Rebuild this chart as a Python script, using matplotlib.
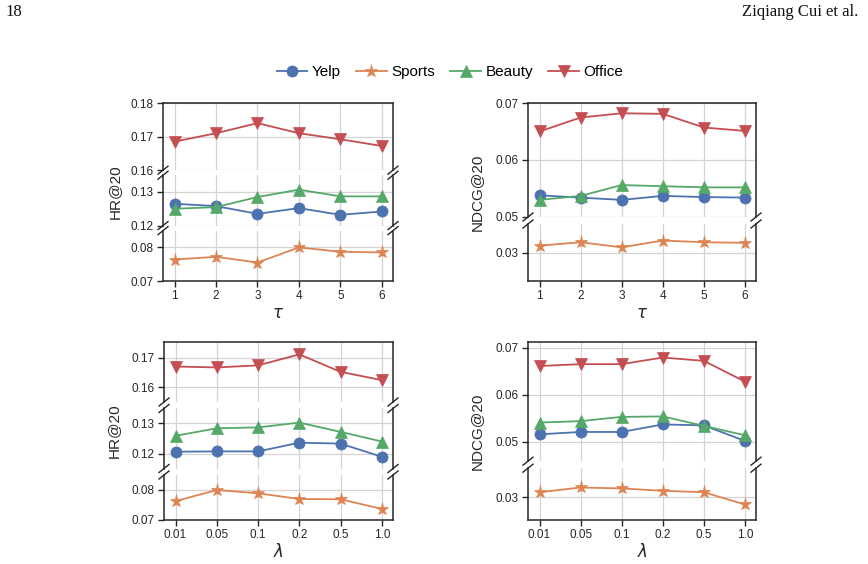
import matplotlib
matplotlib.use('Agg')
import matplotlib.pyplot as plt
from matplotlib.lines import Line2D
from matplotlib.ticker import FormatStrFormatter

plt.rcParams['font.family'] = ['Liberation Sans', 'DejaVu Sans']
plt.rcParams['mathtext.fontset'] = 'dejavusans'

# ---------------- data ----------------
series_names = ['Yelp', 'Sports', 'Beauty', 'Office']
tau_labels = ['1', '2', '3', '4', '5', '6']
lam_labels = ['0.01', '0.05', '0.1', '0.2', '0.5', '1.0']

hr_tau_yelp = [0.1265, 0.1258, 0.1235, 0.1252, 0.1232, 0.1242]
hr_tau_sports = [0.0764, 0.0772, 0.0755, 0.0800, 0.0787, 0.0785]
hr_tau_beauty = [0.1250, 0.1255, 0.1285, 0.1307, 0.1287, 0.1287]
hr_tau_office = [0.1685, 0.1710, 0.1740, 0.1710, 0.1692, 0.1672]

ndcg_tau_yelp = [0.0538, 0.0534, 0.0530, 0.0537, 0.0535, 0.0534]
ndcg_tau_sports = [0.0312, 0.0318, 0.0309, 0.0321, 0.0318, 0.0317]
ndcg_tau_beauty = [0.0530, 0.0537, 0.0556, 0.0554, 0.0552, 0.0552]
ndcg_tau_office = [0.0650, 0.06745, 0.0682, 0.0681, 0.0657, 0.0651]

hr_lam_yelp = [0.1206, 0.1207, 0.1207, 0.1236, 0.1233, 0.1189]
hr_lam_sports = [0.0763, 0.0800, 0.0789, 0.0770, 0.0769, 0.0737]
hr_lam_beauty = [0.1259, 0.1284, 0.1287, 0.1303, 0.1272, 0.1240]
hr_lam_office = [0.1670, 0.1667, 0.1674, 0.1711, 0.1652, 0.1624]

ndcg_lam_yelp = [0.0516, 0.0521, 0.0521, 0.0537, 0.0535, 0.0502]
ndcg_lam_sports = [0.0311, 0.0321, 0.0319, 0.0314, 0.0311, 0.0285]
ndcg_lam_beauty = [0.0541, 0.0544, 0.0553, 0.0554, 0.0534, 0.0514]
ndcg_lam_office = [0.0661, 0.0665, 0.0665, 0.0679, 0.0672, 0.0628]

# ---------------- style ----------------
W, H = 868, 564
fig = plt.figure(figsize=(W / 100, H / 100), dpi=100)

colors = {'Yelp': '#4C72B0', 'Sports': '#DD8452', 'Beauty': '#55A868', 'Office': '#C44E52'}
markers = {'Yelp': 'o', 'Sports': '*', 'Beauty': '^', 'Office': 'v'}
msizes = {'Yelp': 8, 'Sports': 9.5, 'Beauty': 8, 'Office': 8}
DARK = '#262626'


def fx(px):
    return px / W


def fy(py):
    return 1 - py / H


def panel(box, ranges, ticks, ratios, hspace, data, xlabels, ylabel, xlabel, ylab_x, xlab_y):
    left, right, top, bottom = box
    n = len(ranges)
    gs = fig.add_gridspec(n, 1, left=fx(left), right=fx(right), top=fy(top), bottom=fy(bottom),
                          height_ratios=ratios, hspace=hspace)
    axes = []
    xs = list(range(len(xlabels)))
    for i, (lo, hi) in enumerate(ranges):
        ax = fig.add_subplot(gs[i])
        for name in series_names:
            ax.plot(xs, data[name], color=colors[name], marker=markers[name], ms=msizes[name],
                    lw=1.3, mec=colors[name], mew=0.5, zorder=3)
        ax.set_ylim(lo, hi)
        ax.set_yticks(ticks[i])
        ax.yaxis.set_major_formatter(FormatStrFormatter('%.2f'))
        ax.set_xlim(-0.28, len(xs) - 1 + 0.27)
        ax.set_xticks(xs)
        ax.grid(True, color='#d4d4d4', lw=0.9)
        ax.set_axisbelow(True)
        for s in ax.spines.values():
            s.set_color(DARK)
            s.set_linewidth(1.1)
        ax.tick_params(labelsize=8.5, length=4, width=1, colors=DARK, pad=2.5)
        if i > 0:
            ax.spines['top'].set_visible(False)
        if i < n - 1:
            ax.spines['bottom'].set_visible(False)
            ax.tick_params(axis='x', length=0, labelbottom=False)
        else:
            ax.set_xticklabels(xlabels)
        axes.append(ax)
    # break marks
    dx, dy = 5 / W, 4 / H
    for i in range(n - 1):
        yb = axes[i].get_position().y0
        yt = axes[i + 1].get_position().y1
        for yy in (yb, yt):
            for xx in (fx(left), fx(right)):
                fig.add_artist(Line2D([xx - dx, xx + dx], [yy - dy, yy + dy], color=DARK,
                                      lw=1.0, transform=fig.transFigure))
    fig.text(fx(ylab_x), fy((top + bottom) / 2), ylabel, rotation=90, ha='center', va='center',
             fontsize=11, color=DARK)
    fig.text(fx((left + right) / 2), fy(xlab_y), xlabel, ha='center', va='center',
             fontsize=12, color=DARK)
    return axes


panel((163, 393, 103, 281),
      [(0.16, 0.18), (0.12, 0.135), (0.07, 0.085)],
      [[0.16, 0.17, 0.18], [0.12, 0.13], [0.07, 0.08]],
      [4, 3, 3], 0.09,
      {'Yelp': hr_tau_yelp, 'Sports': hr_tau_sports, 'Beauty': hr_tau_beauty, 'Office': hr_tau_office},
      tau_labels, 'HR@20', r'$\tau$', 115, 313)

panel((528, 756, 103, 281),
      [(0.05, 0.07), (0.025, 0.035)],
      [[0.05, 0.06, 0.07], [0.03]],
      [2, 1], 0.082,
      {'Yelp': ndcg_tau_yelp, 'Sports': ndcg_tau_sports, 'Beauty': ndcg_tau_beauty, 'Office': ndcg_tau_office},
      tau_labels, 'NDCG@20', r'$\tau$', 477, 313)

panel((164, 393, 342, 520),
      [(0.155, 0.1753), (0.115, 0.135), (0.07, 0.085)],
      [[0.16, 0.17], [0.12, 0.13], [0.07, 0.08]],
      [4, 4, 3], 0.118,
      {'Yelp': hr_lam_yelp, 'Sports': hr_lam_sports, 'Beauty': hr_lam_beauty, 'Office': hr_lam_office},
      lam_labels, 'HR@20', r'$\lambda$', 114, 551)

panel((528, 756, 342, 520),
      [(0.0459, 0.0712), (0.0252, 0.0362)],
      [[0.05, 0.06, 0.07], [0.03]],
      [0.0253, 0.011], 0.082,
      {'Yelp': ndcg_lam_yelp, 'Sports': ndcg_lam_sports, 'Beauty': ndcg_lam_beauty, 'Office': ndcg_lam_office},
      lam_labels, 'NDCG@20', r'$\lambda$', 477, 551)

# legend
handles = [Line2D([], [], color=colors[n], marker=markers[n], ms=msizes[n], lw=1.3, mec=colors[n], mew=0.5)
           for n in series_names]
fig.legend(handles, series_names, loc='center', bbox_to_anchor=(fx(450), fy(72)), ncol=4,
           frameon=False, fontsize=11, handlelength=2.0, handletextpad=0.3, columnspacing=1.0)

# page header
fig.text(fx(5), fy(12), '18', fontsize=12, family='Liberation Serif', ha='left', va='center', color='#111')
fig.text(fx(858), fy(12), 'Ziqiang Cui et al.', fontsize=12, family='Liberation Serif', ha='right',
         va='center', color='#111')

fig.savefig('out.png', dpi=100)
